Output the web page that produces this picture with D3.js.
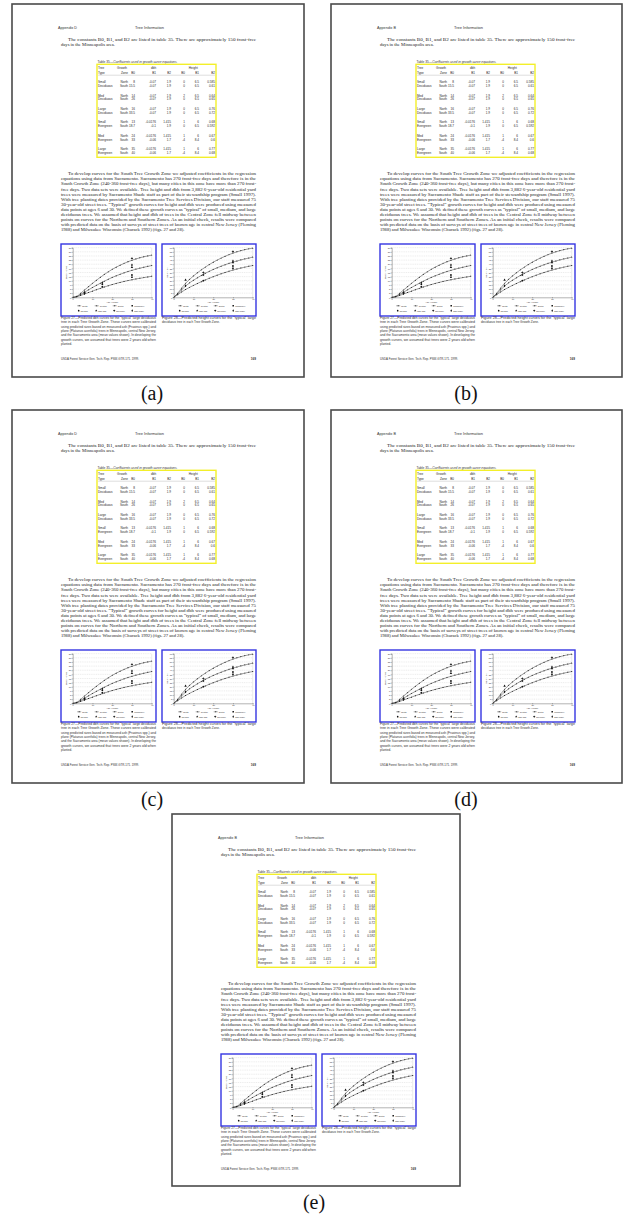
<!DOCTYPE html>
<html>
<head>
<meta charset="utf-8">
<script src="https://cdn.jsdelivr.net/npm/d3@7"></script>
<style>
  body { margin: 0; background: #fff; }
  svg { display: block; }
</style>
</head>
<body>
<div id="chart"></div>
<script>
// ---- table 35 values ----
const treeSize = ['Small', 'Med', 'Large', 'Small', 'Med', 'Large'];
const treeLeaf = ['Deciduous', 'Deciduous', 'Deciduous', 'Evergreen', 'Evergreen', 'Evergreen'];
const dbhB0North = [8, 14, 16, 13, 24, 35];
const dbhB0South = [15.5, 26, 33.5, 18.7, 33, 40];
const dbhB1North = [-0.07, -0.07, -0.07, -0.0176, -0.0176, -0.0176];
const dbhB1South = [-0.07, -0.07, -0.07, -0.1, -0.06, -0.06];
const dbhB2North = [1.9, 1.9, 1.9, 1.415, 1.415, 1.415];
const dbhB2South = [1.9, 1.9, 1.9, 1.9, 1.7, 1.7];
const htB0North = [0, 2, 0, 1, 1, 1];
const htB0South = [0, 0, 0, 0, -4, -4];
const htB1North = [6.5, 6.5, 6.5, 6, 6, 6];
const htB1South = [6.5, 6.5, 6.5, 6.5, 8.4, 8.4];
const htB2North = [0.585, 0.64, 0.76, 0.68, 0.67, 0.77];
const htB2South = [0.61, 0.65, 0.72, 0.592, 0.6, 0.68];

// ---- figure 27 / 28 curves ----
const ages = [2, 4, 6, 8, 10, 12, 14, 16, 18, 20, 22, 24, 26, 28, 30, 32, 34, 36, 38, 40];
const dbhNorth = [0.3, 1.1, 2.0, 2.9, 3.7, 4.6, 5.4, 6.2, 7.0, 7.7, 8.4, 9.0, 9.6, 10.1, 10.6, 11.1, 11.5, 11.9, 12.3, 12.7];
const dbhCentral = [0.4, 1.7, 3.1, 4.5, 5.9, 7.2, 8.5, 9.7, 10.9, 12.0, 13.0, 13.9, 14.8, 15.6, 16.3, 17.0, 17.6, 18.2, 18.7, 19.2];
const dbhSouth = [0.5, 2.4, 4.4, 6.4, 8.4, 10.3, 12.1, 13.8, 15.4, 16.9, 18.2, 19.4, 20.5, 21.5, 22.4, 23.2, 23.9, 24.5, 25.0, 25.5];
const htNorth = [3.2, 6.4, 9.4, 12.0, 14.4, 16.7, 18.9, 21.0, 23.0, 24.9, 26.7, 28.4, 30.0, 31.5, 32.9, 34.2, 35.4, 36.5, 37.5, 38.4];
const htCentral = [4.0, 9.0, 13.6, 17.4, 20.6, 23.6, 26.4, 29.0, 31.4, 33.6, 35.7, 37.6, 39.4, 41.0, 42.5, 43.9, 45.2, 46.4, 47.5, 48.5];
const htSouth = [4.8, 11.0, 16.8, 21.6, 25.8, 29.6, 33.2, 36.5, 39.6, 42.4, 45.0, 47.4, 49.6, 51.6, 53.4, 55.0, 56.4, 57.6, 58.6, 59.4];

// measured points [age, value]
const milwDbh = [[15, 7.9], [30, 12.1]];
const njAshDbh = [[15, 6.4], [30, 13.5]];
const sacAshDbh = [[6, 3.0], [30, 18.1]];
const njPlaneDbh = [[6, 2.2], [30, 23.6]];
const sacPlaneDbh = [[15, 8.8], [30, 19.5]];
const milwHt = [[15, 27.0], [30, 35.0]];
const njAshHt = [[15, 20.1], [30, 37.9]];
const sacAshHt = [[6, 20.9], [30, 41.9]];
const njPlaneHt = [[15, 29.8], [30, 55.2]];
const sacPlaneHt = [[6, 14.0], [30, 44.0]];

const ageTicks = [0, 10, 20, 30, 40];
const dbhTicks = [0, 2.5, 5, 7.5, 10, 12.5, 15, 17.5, 20, 22.5, 25, 27.5, 30];
const htTicks = [0, 5, 10, 15, 20, 25, 30, 35, 40, 45, 50, 55, 60];
const lineNames = ['North', 'Central', 'South'];
const obsNames = ['Milwaukee', 'NJ-ash', 'Sac-ash', 'NJ-plane', 'Sac-plane'];

// ---- page texts ----
const para1 = [
  'The constants B0, B1, and B2 are listed in table 35. There are approximately 150 frost-free',
  'days in the Minneapolis area.'
];
const para2 = [
  'To develop curves for the South Tree Growth Zone we adjusted coefficients in the regression',
  'equations using data from Sacramento. Sacramento has 270 frost-free days and therefore is in the',
  'South Growth Zone (240-360 frost-free days), but many cities in this zone have more than 270 frost-',
  'free days. Two data sets were available. Tree height and dbh from 3,882 6-year-old residential yard',
  'trees were measured by Sacramento Shade staff as part of their stewardship program (Small 1997).',
  'With tree planting dates provided by the Sacramento Tree Services Division, our staff measured 75',
  '30-year-old street trees. \u201cTypical\u201d growth curves for height and dbh were produced using measured',
  'data points at ages 6 and 30. We defined these growth curves as \u201ctypical\u201d of small, medium, and large',
  'deciduous trees. We assumed that height and dbh of trees in the Central Zone fell midway between',
  'points on curves for the Northern and Southern Zones. As an initial check, results were compared',
  'with predicted data on the basis of surveys of street trees of known age in central New Jersey (Fleming',
  '1988) and Milwaukee Wisconsin (Churack 1992) (figs. 27 and 28).'
];
const cap27 = [
  'Figure 27\u2014Predicted dbh curves for the \u201ctypical\u201d large deciduous',
  'tree in each Tree Growth Zone.  These curves were calibrated',
  'using predicted sizes based on measured ash (Fraxinus spp.) and',
  'plane (Platanus acerifolia) trees in Minneapolis, central New Jersey,',
  'and the Sacramento area (mean values shown). In developing the',
  'growth curves, we assumed that trees were 2 years old when',
  'planted.'
];
const cap28 = [
  'Figure 28\u2014Predicted height curves for the \u201ctypical\u201d large',
  'deciduous tree in each Tree Growth Zone.'
];

const pages = [
  { id: '(a)', x: 12, y: 4, w: 292, h: 373, hdr: 'Appendix D', lx: 152 },
  { id: '(b)', x: 331, y: 4, w: 291, h: 373, hdr: 'Appendix B', lx: 466 },
  { id: '(c)', x: 12, y: 410, w: 292, h: 373, hdr: 'Appendix D', lx: 152 },
  { id: '(d)', x: 331, y: 410, w: 291, h: 373, hdr: 'Appendix B', lx: 466 },
  { id: '(e)', x: 172, y: 814, w: 288, h: 372, hdr: 'Appendix B', lx: 314 }
];

const SERIF = "'Liberation Serif','DejaVu Serif',serif";
const SANS = "'Liberation Sans',Arial,sans-serif";

const svg = d3.select('#chart').append('svg')
  .attr('width', 623)
  .attr('height', 1215);

function txt(g, x, y, s, o = {}) {
  const t = g.append('text')
    .attr('x', x)
    .attr('y', y)
    .attr('font-family', o.font || SANS)
    .attr('font-size', o.size || 3.2)
    .attr('fill', o.fill || '#222')
    .text(s);
  if (o.anchor) t.attr('text-anchor', o.anchor);
  if (o.len) t.attr('textLength', o.len).attr('lengthAdjust', 'spacingAndGlyphs');
  if (o.weight) t.attr('font-weight', o.weight);
  return t;
}

const symbolFor = {
  North: d3.symbolSquare, Central: d3.symbolTriangle, South: d3.symbolCross,
  Milwaukee: d3.symbolSquare, 'NJ-ash': d3.symbolCircle, 'Sac-ash': d3.symbolTriangle,
  'NJ-plane': d3.symbolCross, 'Sac-plane': d3.symbolDiamond
};

function drawChart(g, bx, bw, yTicks, yTitle, curves, obs) {
  g.append('rect')
    .attr('x', bx).attr('y', 240).attr('width', bw).attr('height', 72)
    .attr('fill', '#fff').attr('stroke', '#3535e2').attr('stroke-width', 1.4);

  const px = bx + 11.7;
  const x = d3.scaleLinear().domain([0, 40]).range([px, px + 79]);
  const y = d3.scaleLinear()
    .domain([yTicks[0], yTicks[yTicks.length - 1]])
    .range([293.3, 243.7]);

  // gridlines
  g.selectAll(null)
    .data(yTicks.slice(1))
    .enter()
    .append('line')
    .attr('x1', x(0)).attr('x2', x(40))
    .attr('y1', (d) => y(d)).attr('y2', (d) => y(d))
    .attr('stroke', '#bbb').attr('stroke-width', 0.3)
    .attr('stroke-dasharray', '1,0.8');
  g.append('line')
    .attr('x1', x(40)).attr('x2', x(40)).attr('y1', y.range()[0]).attr('y2', y.range()[1])
    .attr('stroke', '#bbb').attr('stroke-width', 0.3);

  // axes
  const ya = g.append('g')
    .attr('transform', `translate(${px},0)`)
    .call(d3.axisLeft(y).tickValues(yTicks).tickSize(1).tickPadding(0.6));
  const xa = g.append('g')
    .attr('transform', `translate(0,${y.range()[0]})`)
    .call(d3.axisBottom(x).tickValues(ageTicks).tickSize(1).tickPadding(0.6));
  [ya, xa].forEach((a) => {
    a.attr('font-size', 2.2).attr('font-family', SANS);
    a.selectAll('path, line').attr('stroke', '#222').attr('stroke-width', 0.35);
    a.selectAll('text').attr('fill', '#333');
  });

  txt(g, 0, 0, yTitle, { size: 2.3, anchor: 'middle', fill: '#333' })
    .attr('transform', `translate(${px - 5.8},${(y.range()[0] + y.range()[1]) / 2}) rotate(-90)`);
  txt(g, (x(0) + x(40)) / 2, 299.4, 'Age (Years)', { size: 2.3, anchor: 'middle', fill: '#333' });

  // predicted curves
  const line = d3.line()
    .x((d) => x(d[0]))
    .y((d) => y(d[1]))
    .curve(d3.curveMonotoneX);
  curves.forEach((c) => {
    const pts = [[0, 0]].concat(d3.zip(ages, c.vals));
    g.append('path')
      .attr('d', line(pts))
      .attr('fill', 'none').attr('stroke', '#222').attr('stroke-width', 0.45);
    g.selectAll(null)
      .data(d3.zip(ages, c.vals))
      .enter()
      .append('path')
      .attr('transform', (d) => `translate(${x(d[0])},${y(d[1])})`)
      .attr('d', d3.symbol(symbolFor[c.name], 0.9))
      .attr('fill', '#222');
  });

  // measured points
  obs.forEach((o) => {
    g.selectAll(null)
      .data(o.pts)
      .enter()
      .append('path')
      .attr('transform', (d) => `translate(${x(d[0])},${y(d[1])})`)
      .attr('d', d3.symbol(symbolFor[o.name], 2.6))
      .attr('fill', '#111');
  });

  // legend
  const offs = [4.5, 22, 40, 58];
  lineNames.concat(['Milwaukee']).forEach((n, i) => {
    const lx = px + offs[i];
    if (i < 3) {
      g.append('line')
        .attr('x1', lx).attr('x2', lx + 4).attr('y1', 301.8).attr('y2', 301.8)
        .attr('stroke', '#222').attr('stroke-width', 0.4);
      g.append('path')
        .attr('transform', `translate(${lx + 2},301.8)`)
        .attr('d', d3.symbol(symbolFor[n], 0.9)).attr('fill', '#222');
      txt(g, lx + 5, 302.6, n, { size: 2.2, fill: '#333' });
    } else {
      g.append('path')
        .attr('transform', `translate(${lx + 1.5},301.8)`)
        .attr('d', d3.symbol(symbolFor[n], 2.2)).attr('fill', '#111');
      txt(g, lx + 3.5, 302.6, n, { size: 2.2, fill: '#333' });
    }
  });
  obsNames.slice(1).forEach((n, i) => {
    const lx = px + offs[i];
    g.append('path')
      .attr('transform', `translate(${lx + 1.5},306.7)`)
      .attr('d', d3.symbol(symbolFor[n], 2.2)).attr('fill', '#111');
    txt(g, lx + 3.5, 307.5, n, { size: 2.2, fill: '#333' });
  });
}

function drawPage(p) {
  const g = svg.append('g').attr('transform', `translate(${p.x},${p.y})`);
  g.append('rect')
    .attr('x', 0).attr('y', 0).attr('width', p.w).attr('height', p.h)
    .attr('fill', '#fff').attr('stroke', '#4a4a4a').attr('stroke-width', 1.6);

  // running head
  txt(g, 46, 24.6, p.hdr, { size: 3.3, len: 19, fill: '#333' });
  txt(g, 123, 24.6, 'Tree Information', { size: 3.3, len: 29, fill: '#333' });

  // first paragraph
  txt(g, 56, 36.8, para1[0], { font: SERIF, size: 4.6, len: 188 });
  txt(g, 49, 41.8, para1[1], { font: SERIF, size: 4.6 });

  // table 35
  const cap = g.append('text')
    .attr('x', 85.5).attr('y', 58.8)
    .attr('font-family', SANS).attr('font-size', 3)
    .attr('fill', '#333')
    .attr('textLength', 80).attr('lengthAdjust', 'spacingAndGlyphs');
  cap.append('tspan').text('Table 35\u2014');
  cap.append('tspan').attr('font-style', 'italic').text('Coefficients used in growth curve equations.');

  g.append('rect')
    .attr('x', 85).attr('y', 60.3).attr('width', 119).attr('height', 93)
    .attr('fill', 'none').attr('stroke', '#f3ef2a').attr('stroke-width', 1.4);

  const colEnd = [116, 123, 144, 159, 173, 187, 203];
  const tOpt = { size: 3.1, fill: '#2a2a2a' };
  txt(g, 86, 65, 'Tree', tOpt);
  txt(g, 105, 65, 'Growth', tOpt);
  txt(g, 141.7, 65, 'dbh', { ...tOpt, anchor: 'middle' });
  txt(g, 181.3, 65, 'Height', { ...tOpt, anchor: 'middle' });
  txt(g, 86, 70, 'Type', tOpt);
  ['Zone', 'B0', 'B1', 'B2', 'B0', 'B1', 'B2'].forEach((h, i) => {
    txt(g, colEnd[i], 70, h, { ...tOpt, anchor: 'end' });
  });
  g.append('line')
    .attr('x1', 86).attr('x2', 203).attr('y1', 71.2).attr('y2', 71.2)
    .attr('stroke', '#777').attr('stroke-width', 0.25);

  treeSize.forEach((s, k) => {
    const y1 = 79.1 + 13.4 * k;
    const y2 = y1 + 3.9;
    txt(g, 86, y1, s, tOpt);
    txt(g, 86, y2, treeLeaf[k], tOpt);
    const north = ['North', dbhB0North[k], dbhB1North[k], dbhB2North[k], htB0North[k], htB1North[k], htB2North[k]];
    const south = ['South', dbhB0South[k], dbhB1South[k], dbhB2South[k], htB0South[k], htB1South[k], htB2South[k]];
    north.forEach((v, i) => txt(g, colEnd[i], y1, String(v), { ...tOpt, anchor: 'end' }));
    south.forEach((v, i) => txt(g, colEnd[i], y2, String(v), { ...tOpt, anchor: 'end' }));
  });

  // second paragraph
  para2.forEach((l, i) => {
    const last = i === para2.length - 1;
    const x0 = i === 0 ? 56 : 49;
    txt(g, x0, 171.2 + 5.1 * i, l, {
      font: SERIF, size: 4.6, len: last ? null : 244 - x0
    });
  });

  // figures 27 and 28
  drawChart(g, 49, 95, dbhTicks, 'DBH (inches)', [
    { name: 'North', vals: dbhNorth },
    { name: 'Central', vals: dbhCentral },
    { name: 'South', vals: dbhSouth }
  ], [
    { name: 'Milwaukee', pts: milwDbh },
    { name: 'NJ-ash', pts: njAshDbh },
    { name: 'Sac-ash', pts: sacAshDbh },
    { name: 'NJ-plane', pts: njPlaneDbh },
    { name: 'Sac-plane', pts: sacPlaneDbh }
  ]);
  drawChart(g, 150, 94, htTicks, 'Height (ft)', [
    { name: 'North', vals: htNorth },
    { name: 'Central', vals: htCentral },
    { name: 'South', vals: htSouth }
  ], [
    { name: 'Milwaukee', pts: milwHt },
    { name: 'NJ-ash', pts: njAshHt },
    { name: 'Sac-ash', pts: sacAshHt },
    { name: 'NJ-plane', pts: njPlaneHt },
    { name: 'Sac-plane', pts: sacPlaneHt }
  ]);

  // captions
  cap27.forEach((l, i) => {
    const last = i === cap27.length - 1;
    txt(g, 49, 315 + 4.35 * i, l, { size: 3.1, len: last ? null : 95, fill: '#333' });
  });
  cap28.forEach((l, i) => {
    const last = i === cap28.length - 1;
    txt(g, 150, 315 + 4.35 * i, l, { size: 3.1, len: last ? null : 94, fill: '#333' });
  });

  // footer
  txt(g, 49, 356, 'USDA Forest Service Gen. Tech. Rep. PSW-GTR-171. 1999.', { size: 2.9, len: 78, fill: '#333' });
  txt(g, 244, 356, '169', { size: 3.1, anchor: 'end', weight: 'bold', fill: '#333' });

  // sub-figure label
  svg.append('text')
    .attr('x', p.lx).attr('y', p.y + p.h + 23)
    .attr('text-anchor', 'middle')
    .attr('font-family', SERIF).attr('font-size', 20)
    .attr('fill', '#111')
    .text(p.id);
}

pages.forEach(drawPage);
</script>
</body>
</html>
